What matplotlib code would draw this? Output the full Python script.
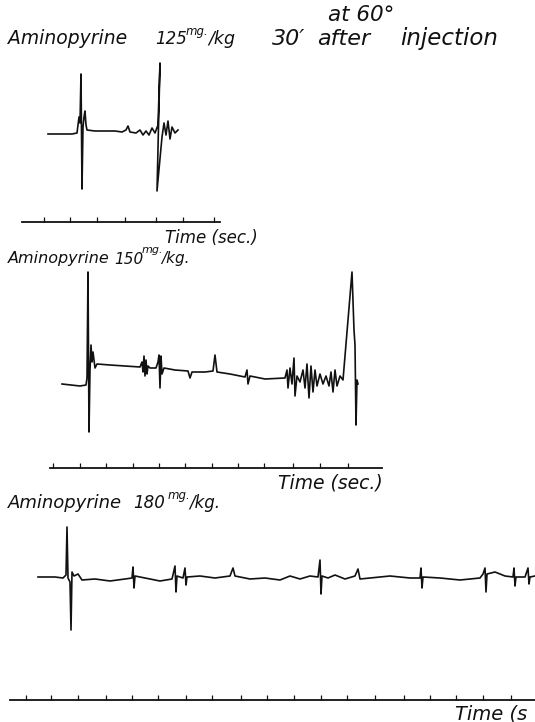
import matplotlib
matplotlib.use("Agg")
import matplotlib.pyplot as plt

W, H = 535, 722

# ---------------- data (x: record distance, y: deflection) ----------------
trace1_x = [48, 72, 77, 78, 79, 80, 81, 82, 83, 84, 85, 86, 87, 95, 115, 122, 126, 128, 130, 136,
            140, 143, 146, 149, 152, 155, 158, 160, 157, 162, 164, 166, 168, 170, 172, 175, 178]
trace1_y = [-2, -2, -1, 7, 15, 9, 58, -57, 5, 15, 21, 7, 2, 1, 1, 0, 2, 6, 0, -1,
            2, -3, 1, -3, 4, -1, 7, 69, -59, -5, 9, -3, 11, -7, 5, -1, 2]

trace2_x = [62, 80, 86, 87, 88, 89, 90, 91, 92, 93, 95, 97, 110, 125, 140, 142, 143, 144, 145, 146,
            147, 148, 150, 156, 158, 159, 160, 161, 162, 164, 175, 188, 190, 192, 205, 213, 215, 217,
            230, 245, 247, 248, 250, 265, 285, 287, 288, 290, 292, 294, 295, 297, 300, 303, 305, 307,
            309, 311, 313, 315, 317, 320, 323, 326, 329, 331, 333, 335, 337, 340, 343, 352, 354, 355,
            356, 357, 358]
trace2_y = [-4, -6, -5, 2, 108, -52, 10, 35, 18, 28, 12, 16, 15, 14, 13, 18, 8, 24, 4, 20,
            6, 14, 12, 12, 18, 25, -8, 24, 6, 12, 10, 9, 2, 8, 8, 9, 25, 8,
            6, 3, 10, -4, 4, 1, 2, 10, -8, 12, -4, 22, -16, 4, -2, 10, -8, 16,
            -18, 14, -12, 10, -6, 6, -4, 4, -6, 8, -12, 10, -6, 4, 0, 108, 50, 35,
            -45, 0, -4]

trace3_x = [38, 55, 63, 66, 67, 68, 70, 71, 72, 74, 78, 82, 95, 110, 125, 132, 133, 134, 135, 145,
            160, 172, 175, 176, 177, 183, 185, 186, 187, 200, 215, 230, 233, 235, 250, 265, 280, 290,
            300, 310, 318, 320, 321, 322, 328, 335, 345, 355, 358, 360, 370, 390, 410, 420, 421, 422,
            423, 440, 460, 480, 483, 485, 486, 487, 495, 505, 513, 514, 515, 516, 525, 528, 529, 530, 535]
trace3_y = [0, 0, -1, 2, 50, -1, -5, -53, 5, 1, 3, -3, -2, -4, -2, -1, 10, -11, 1, -1,
            -4, -2, 11, -15, 1, -1, 9, -8, 0, 1, -1, 1, 9, 1, -2, -1, -3, 1,
            -2, 1, 0, 17, -17, 1, -1, 2, -2, 1, 8, -2, -1, 1, -1, -1, 9, -11,
            0, -1, -3, -1, 3, 9, -15, 3, 5, 1, 0, 9, -9, 0, 0, 9, -7, 0, 1]

time1_ticks = [44, 70, 97, 125, 156, 183, 214]
time2_ticks = [53, 80, 106, 133, 159, 185, 212, 238, 264, 293, 320, 348]
time3_ticks = [26, 51, 78, 106, 132, 158, 186, 212, 241, 267, 294, 321, 347, 375, 404, 430, 456, 483, 511]

drug = "Aminopyrine"
doses = ["125", "150", "180"]
time_label = "Time (sec.)"
time_label_cut = "Time (s"

# ---------------- figure ----------------
fig = plt.figure(figsize=(W / 100, H / 100), dpi=100)
bg = fig.add_axes([0, 0, 1, 1])
bg.set_xlim(0, W)
bg.set_ylim(H, 0)
bg.axis("off")

ink = "#111111"
FONT = dict(family="DejaVu Sans", style="italic", color=ink)


def panel_axes(top, bottom, base):
    ax = fig.add_axes([0, 1 - bottom / H, 1, (bottom - top) / H])
    ax.set_xlim(0, W)
    ax.set_ylim(base - bottom, base - top)
    ax.axis("off")
    return ax


# traces
a1 = panel_axes(55, 200, 132)
a1.plot(trace1_x, trace1_y, color=ink, lw=1.2)
a2 = panel_axes(265, 440, 380)
a2.plot(trace2_x, trace2_y, color=ink, lw=1.2)
a3 = panel_axes(520, 640, 577)
a3.plot(trace3_x, trace3_y, color=ink, lw=1.2)

# time markers
for (top, bot, base, x0, x1, ticks) in [(210, 230, 222, 22, 220, time1_ticks),
                                         (455, 475, 468, 50, 382, time2_ticks),
                                         (688, 708, 700, 10, 535, time3_ticks)]:
    t = panel_axes(top, bot, base)
    t.plot([x0, x1], [0, 0], color=ink, lw=1.3)
    t.vlines(ticks, 0, 5, color=ink, lw=0.9)


def txt(x, y, s, fs, **kw):
    return bg.text(x, y, s, fontsize=fs, va="center", **FONT, **kw)


# header
txt(328, 15, "at 60°", 15.5)
txt(8, 39, drug, 13.5)
txt(155, 39, doses[0], 12)
txt(186, 31, "mg.", 8.5)
txt(208, 39, "/kg", 12.5)
txt(272, 39, "30′", 16)
txt(317, 39, "after", 16)
txt(400, 39, "injection", 16.5)

txt(165, 238, time_label, 12)

# panel 2 label
txt(8, 259, drug, 11.5)
txt(114, 259, doses[1], 11)
txt(142, 250, "mg.", 8)
txt(161, 259, "/kg.", 11)

txt(278, 483, time_label, 13.5)

# panel 3 label
txt(8, 503, drug, 13)
txt(133, 503, doses[2], 12)
txt(168, 495, "mg.", 8.5)
txt(189, 503, "/kg.", 12)

txt(455, 714, time_label_cut, 14)

fig.savefig("out.png", dpi=100)
